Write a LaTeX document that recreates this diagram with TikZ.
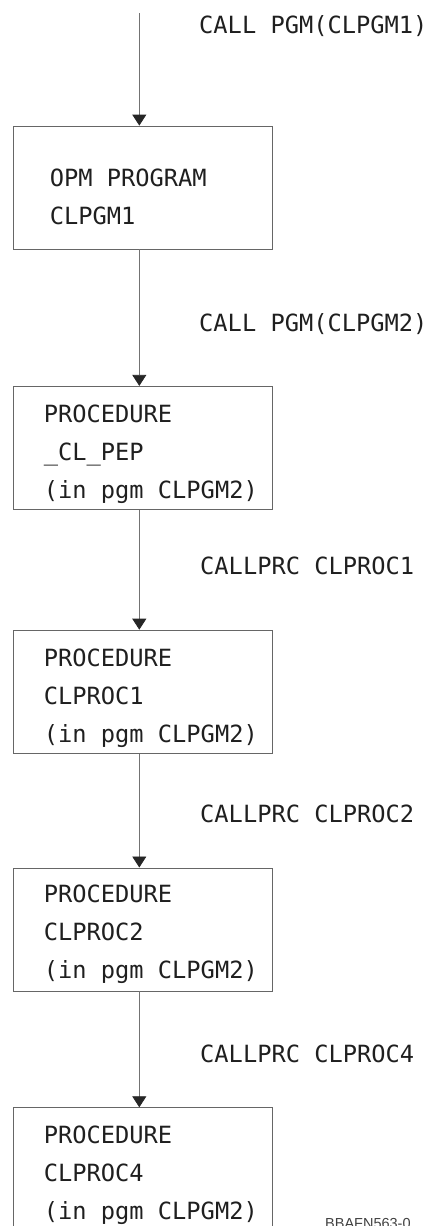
\documentclass[tikz,border=0pt]{standalone}
\usepackage{fontspec}
\setmonofont{DejaVu Sans Mono}
\setsansfont{Liberation Sans}
\usetikzlibrary{arrows.meta,positioning}

\begin{document}
\begin{tikzpicture}[x=1pt,y=1pt,
        box/.style={draw=black!60,line width=0.8pt,minimum width=259pt,minimum height=123pt,inner sep=0pt},
        txt/.style={anchor=north west,inner sep=0pt,align=left,text=black!88,
            font=\ttfamily\fontsize{23.7}{38}\selectfont},
        call/.style={anchor=base west,inner sep=0pt,text=black!88,font=\ttfamily\fontsize{23.7}{28}\selectfont},
        flow/.style={draw=black!55,line width=0.8pt,-{Triangle[width=14pt,length=11pt,color=black!85]}}]
        \useasboundingbox (0,0) rectangle (432,-1226);
        \clip (0,0) rectangle (432,-1226);
        % boxes
        \node[box] (b1) at (142.5,-187.5) {};
        \node[box,below=136.5pt of b1] (b2) {};
        \node[box,below=120pt of b2] (b3) {};
        \node[box,below=114pt of b3] (b4) {};
        \node[box,below=116pt of b4] (b5) {};
        \node[txt] (t1) at ([xshift=37pt,yshift=-42.7pt]b1.north west) {OPM PROGRAM\\CLPGM1};
        \node[txt] (t2) at ([xshift=31pt,yshift=-18.7pt]b2.north west) {PROCEDURE\\\_CL\_PEP\\(in pgm CLPGM2)};
        \node[txt] (t3) at ([xshift=31pt,yshift=-18.7pt]b3.north west) {PROCEDURE\\CLPROC1\\(in pgm CLPGM2)};
        \node[txt] (t4) at ([xshift=31pt,yshift=-16.7pt]b4.north west) {PROCEDURE\\CLPROC2\\(in pgm CLPGM2)};
        \node[txt] (t5) at ([xshift=31pt,yshift=-18.7pt]b5.north west) {PROCEDURE\\CLPROC4\\(in pgm CLPGM2)};
        % calls
        \coordinate (start) at (139.3,-13);
        \draw[flow] (start) -- ([xshift=-3.2pt]b1.north);
        \draw[flow] ([xshift=-3.2pt]b1.south) -- ([xshift=-3.2pt]b2.north);
        \draw[flow] ([xshift=-3.2pt]b2.south) -- ([xshift=-3.2pt]b3.north);
        \draw[flow] ([xshift=-3.2pt]b3.south) -- ([xshift=-3.2pt]b4.north);
        \draw[flow] ([xshift=-3.2pt]b4.south) -- ([xshift=-3.2pt]b5.north);
        \node[call] (c1) at (199,-33) {CALL PGM(CLPGM1)};
        \node[call] (c2) at (199,-331) {CALL PGM(CLPGM2)};
        \node[call] (c3) at (200,-574) {CALLPRC CLPROC1};
        \node[call] (c4) at (200,-822) {CALLPRC CLPROC2};
        \node[call] (c5) at (200,-1062) {CALLPRC CLPROC4};
        \node[anchor=base west,inner sep=0pt,text=black!75,font=\sffamily\fontsize{14.5}{16}\selectfont] (fig) at (325,-1228.4) {BBAFN563-0};
    \end{tikzpicture}
\end{document}
